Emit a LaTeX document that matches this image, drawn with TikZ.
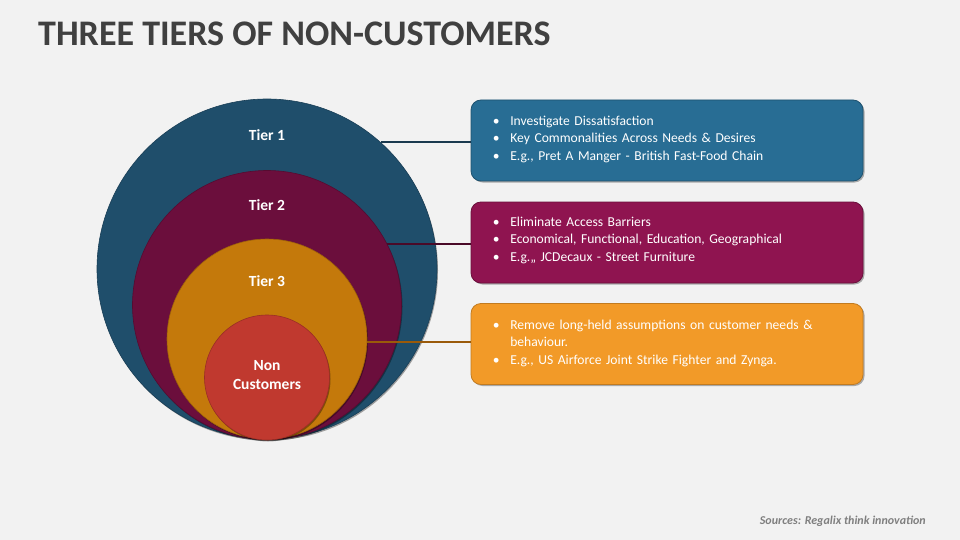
\documentclass[tikz,border=0pt]{standalone}
\usepackage{fontspec}
\setmainfont{Carlito}
\usetikzlibrary{calc,shadows}
\definecolor{bg}{HTML}{F2F2F2}
\definecolor{cone}{HTML}{1F4E6B}
\definecolor{ctwo}{HTML}{6B0E3C}
\definecolor{cthree}{HTML}{C4790B}
\definecolor{cfour}{HTML}{C0392F}
\definecolor{bone}{HTML}{286D94}
\definecolor{btwo}{HTML}{8F1450}
\definecolor{bthree}{HTML}{F29A28}
\definecolor{lone}{HTML}{1B3A4F}
\definecolor{ltwo}{HTML}{4A0A28}
\definecolor{lthree}{HTML}{9A5A0A}
\definecolor{titlegray}{HTML}{404040}
\definecolor{srcgray}{HTML}{7F7F7F}
\newcommand{\bul}[1]{\par\hyphenpenalty=10000\exhyphenpenalty=10000\hangindent=17.5pt\hangafter=1\noindent\makebox[17.5pt][l]{\textbullet}#1}
\begin{document}
\begin{tikzpicture}[x=1pt,y=-1pt,
  ring/.style={circle,inner sep=0pt,line width=0.6pt,
    drop shadow={shadow xshift=1pt,shadow yshift=-1.5pt,opacity=0.35,fill=black}},
  infobox/.style={rounded corners=10pt,minimum width=392pt,minimum height=81pt,
    inner sep=0pt,line width=0.8pt,
    drop shadow={shadow xshift=1.5pt,shadow yshift=-1.5pt,opacity=0.3,fill=black}},
  tierlbl/.style={text=white,font=\bfseries\fontsize{15.5}{18}\selectfont},
  boxtext/.style={text=white,inner sep=0pt,text width=360pt,align=left,
    font=\fontsize{13.6}{17.2}\selectfont,anchor=west},
  link/.style={line width=2pt}]
\useasboundingbox (0,0) rectangle (960,540);
\fill[bg] (0,0) rectangle (960,540);
% title
\node[anchor=west,text=titlegray,font=\bfseries\fontsize{36}{42}\selectfont,inner sep=0pt] (title) at (38,34) {THREE TIERS OF NON-CUSTOMERS};
% circles
\node[ring,fill=cone,draw=cone!80!black,minimum size=340pt] (c1) at (267,269) {};
\node[ring,fill=ctwo,draw=ctwo!80!black,minimum size=269pt] (c2) at (267,305) {};
\node[ring,fill=cthree,draw=cthree!80!black,minimum size=200pt] (c3) at (267,339) {};
\node[ring,fill=cfour,draw=cfour!80!black,minimum size=125pt] (c4) at (267,377.5) {};
\node[tierlbl] (t1) at (267,135) {Tier 1};
\node[tierlbl] (t2) at (267,205) {Tier 2};
\node[tierlbl] (t3) at (267,281) {Tier 3};
\node[tierlbl,align=center,font=\bfseries\fontsize{15.5}{19}\selectfont] (t4) at (267,375) {Non\\Customers};
% boxes
\node[infobox,fill=bone,draw=bone!75!black] (b1) at (667,140.5) {};
\node[infobox,fill=btwo,draw=btwo!75!black] (b2) at (667,242.5) {};
\node[infobox,fill=bthree,draw=bthree!80!black] (b3) at (667,344) {};
\node[boxtext] (x1) at ($(b1.west)+(22,-5)$) {\bul{Investigate Dissatisfaction}\bul{Key Commonalities Across Needs \& Desires}\bul{E.g., Pret A Manger - British Fast-Food Chain}};
\node[boxtext] (x2) at ($(b2.west)+(22,-6)$) {\bul{Eliminate Access Barriers}\bul{Economical, Functional, Education, Geographical}\bul{E.g.,, JCDecaux - Street Furniture}};
\node[boxtext] (x3) at ($(b3.west)+(22,-4.5)$) {\bul{Remove long-held assumptions on customer needs \& behaviour.}\bul{E.g., US Airforce Joint Strike Fighter and Zynga.}};
% connectors
\draw[link,lone] (c1.48.8) -- (c1.48.8 -| b1.west);
\draw[link,ltwo] (c2.27.9) -- (c2.27.9 -| b2.west);
\draw[link,lthree] (c3.-2.9) -- (c3.-2.9 -| b3.west);
% source
\node[anchor=east,text=srcgray,font=\bfseries\itshape\fontsize{12}{14}\selectfont,inner sep=0pt] (src) at (926,521) {Sources: Regalix think innovation};
\end{tikzpicture}
\end{document}
